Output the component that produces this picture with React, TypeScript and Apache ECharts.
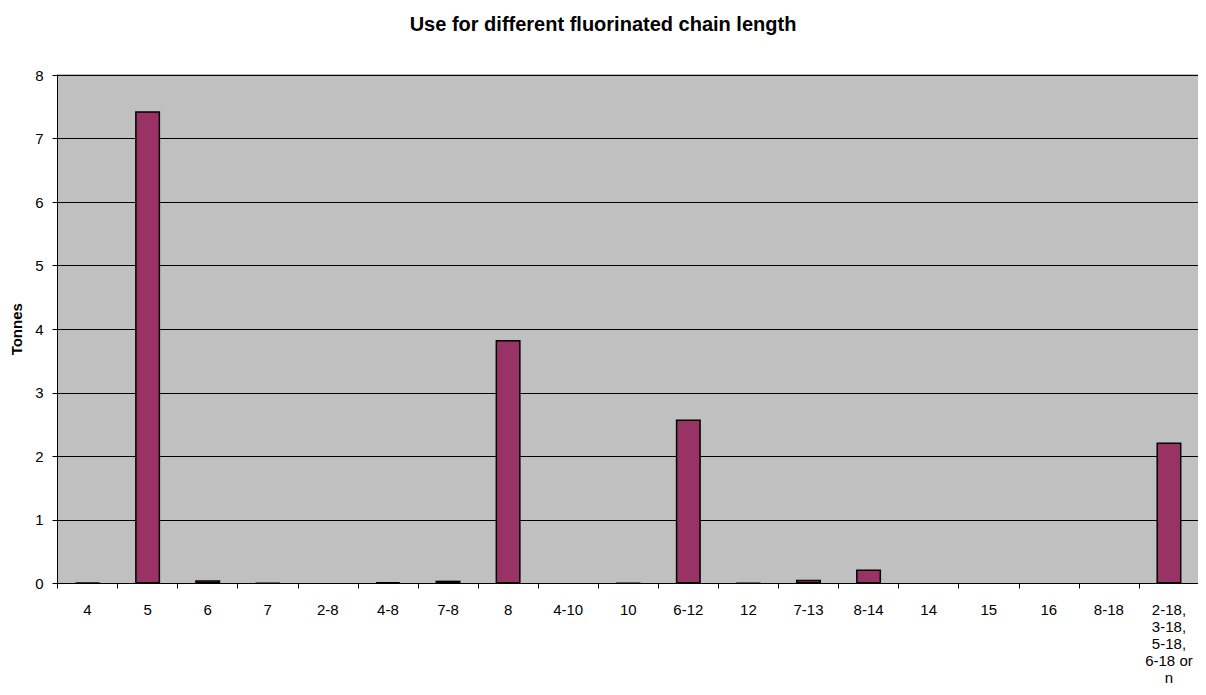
import React, { useEffect, useRef } from "react";
import * as echarts from "echarts";

const categories = [
  "4", "5", "6", "7", "2-8", "4-8", "7-8", "8", "4-10", "10", "6-12", "12",
  "7-13", "8-14", "14", "15", "16", "8-18", "2-18,\n3-18,\n5-18,\n6-18 or\nn",
];
const tonnes = [
  0.015, 7.43, 0.05, 0.005, 0, 0.02, 0.045, 3.83, 0, 0.01, 2.58, 0.01,
  0.06, 0.22, 0, 0, 0, 0, 2.22,
];
const yTicks = [0, 1, 2, 3, 4, 5, 6, 7, 8];

export default function App() {
  const ref = useRef<HTMLDivElement>(null);
  useEffect(() => {
    if (!ref.current) return;
    const chart = echarts.init(ref.current, null, { renderer: "svg" });
    const font = "Arial, 'Liberation Sans', sans-serif";
    chart.setOption({
      animation: false,
      textStyle: { fontFamily: font },
      title: {
        text: "Use for different fluorinated chain length",
        left: "center",
        top: 9,
        textStyle: { fontFamily: font, fontSize: 20, fontWeight: "bold", color: "#000" },
      },
      grid: {
        left: 57.5,
        right: 7,
        top: 75,
        bottom: 111.5,
        show: true,
        backgroundColor: "#C0C0C0",
        borderColor: "#808080",
        borderWidth: 1,
      },
      xAxis: {
        type: "category",
        data: categories,
        axisLine: { show: true, lineStyle: { color: "#000", width: 1 } },
        axisTick: { show: true, length: 5, lineStyle: { color: "#000" } },
        axisLabel: {
          color: "#000",
          fontSize: 15,
          fontFamily: font,
          margin: 17,
          lineHeight: 17,
          interval: 0,
        },
      },
      yAxis: {
        type: "value",
        min: yTicks[0],
        max: yTicks[yTicks.length - 1],
        interval: 1,
        name: "Tonnes",
        nameLocation: "middle",
        nameGap: 32,
        nameTextStyle: { fontFamily: font, fontSize: 15, fontWeight: "bold", color: "#000" },
        axisLine: { show: true, lineStyle: { color: "#000", width: 1 } },
        axisTick: { show: true, length: 5, lineStyle: { color: "#000" } },
        axisLabel: { color: "#000", fontSize: 15, fontFamily: font, margin: 14 },
        splitLine: { show: true, lineStyle: { color: "#000", width: 1 } },
      },
      series: [
        {
          type: "bar",
          data: tonnes.map((v) => ({
            value: v,
            itemStyle: v === 0 ? { borderWidth: 0 } : undefined,
          })),
          barWidth: 25,
          itemStyle: { color: "#993366", borderColor: "#000", borderWidth: 1.5 },
        },
      ],
    });
    return () => chart.dispose();
  }, []);
  return <div ref={ref} style={{ width: 1206, height: 695, margin: -8 }} />;
}
